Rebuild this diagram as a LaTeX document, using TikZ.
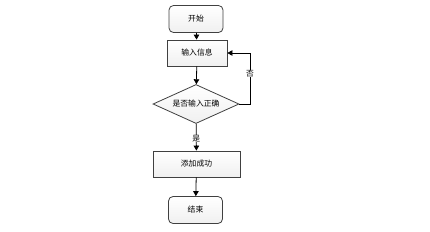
\documentclass[tikz,border=0pt]{standalone}
\usepackage{fontspec}
\setmainfont{Noto Sans CJK SC}
\usetikzlibrary{shapes.geometric,arrows.meta}
\begin{document}
\begin{tikzpicture}[x=1pt,y=-1pt,
  font=\fontsize{7.8}{8}\selectfont,
  boxbase/.style={draw=black!75,line width=0.8pt,top color=white,bottom color=gray!12,inner sep=0pt},
  term/.style={boxbase,rounded corners=4.5pt,minimum width=54pt,minimum height=27pt},
  proc/.style={boxbase,minimum width=60pt,minimum height=26pt},
  proc2/.style={boxbase,minimum width=87pt,minimum height=26pt},
  dec/.style={boxbase,diamond,aspect=2.2,minimum width=86pt,minimum height=39pt},
  conn/.style={draw=black,line width=0.8pt,-{Triangle[length=5pt,width=5.5pt]}},
  lbl/.style={fill=white,inner sep=0.5pt}]
\useasboundingbox (0,0) rectangle (430,231);
\node[term] (start) at (196,19) {开始};
\node[proc] (input) at (197,53) {输入信息};
\node[dec] (check) at (196,104) {是否输入正确};
\node[proc2] (add) at (196.5,164) {添加成功};
\node[term] (end) at (195.5,210) {结束};
\coordinate (c1) at (250,104);
\coordinate (c2) at (250,53);
\draw[conn] (start) -- (input);
\draw[conn] (input) -- (check);
\draw[conn] (check) -- node[lbl,pos=0.55] {是} (add);
\draw[conn] (check.east) -- (c1) -- node[lbl,pos=0.6] {否} (c2) -- (input.east);
\draw[conn] (add) -- (end);
\end{tikzpicture}
\end{document}
